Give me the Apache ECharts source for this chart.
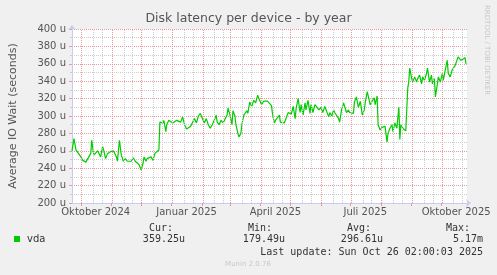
<!DOCTYPE html>
<html><head><meta charset="utf-8">
<script src="https://cdn.jsdelivr.net/npm/echarts@6/dist/echarts.min.js"></script>
<style>html,body{margin:0;padding:0;background:#f0f0f0}#c{width:497px;height:275px}</style>
</head><body><div id="c"></div>
<script>
// ---- data ----
const startDate = '2024-09-22';
const endDate = '2025-10-27';
const seriesName = 'vda';
// days since startDate
const days = [0,2,4,6,9,11,14,16,17,19,20,22,24,26,27,29,31,32,34,36,39,41,42,45,46,48,50,52,54,56,58,60,62,64,66,68,70,72,73,75,76,78,80,82,84,86,88,
89,90,92,93,95,96,98,100,102,104,106,108,110,112,114,116,118,120,122,124,126,128,130,132,134,136,138,140,142,144,146,147,149,151,153,155,157,158,160,162,163,165,166,168,169,171,172,174,176,177,178,
180,182,184,186,188,190,192,194,196,198,200,202,203,204,205,206,208,210,211,213,215,217,219,221,222,224,226,227,229,231,232,234,236,237,239,241,242,244,246,248,250,252,254,256,258,260,261,263,265,266,268,270,271,273,275,276,278,280,281,283,285,286,288,290,292,294,296,297,299,301,302,304,306,307,309,
310,312,314,316,317,319,320,322,324,325,327,329,330,331,332,333,335,337,338,
340,341,342,344,345,347,349,350,352,354,355,357,359,360,362,364,365,367,368,370,371,373,375,376,378,380,381,383,385,386,388,389,391,393,394,396,398,399];
// average IO wait, microseconds
const latency = [260,274,261,259,253,249,247,248,253,257,272,255,257,260,262,253,265,261,251,257,259,257,260,253,248,272,255,248,251,248,249,248,252,248,246,244,238,246,253,248,251,249,253,249,257,259,261,
293,295,292,295,282,290,295,297,292,293,295,297,293,299,290,285,286,288,290,297,292,300,303,297,292,297,290,286,290,295,301,293,290,295,292,290,301,309,301,290,306,300,290,280,276,280,290,301,303,306,303,
316,311,318,315,324,318,313,317,318,317,316,312,303,297,292,295,293,301,293,295,292,290,304,306,302,311,297,309,320,304,313,301,315,307,318,303,313,304,313,313,307,310,304,311,312,299,304,300,307,304,306,297,293,307,315,313,304,307,304,306,303,316,322,310,317,301,307,316,328,318,313,313,321,313,323,
290,284,287,285,288,270,280,286,290,282,292,286,288,310,273,290,286,284,283,
332,339,355,343,339,345,339,343,347,337,345,341,349,355,339,347,337,343,322,337,345,339,349,341,353,364,349,345,353,351,358,357,368,370,364,366,367,360];
const yMin = 200, yMax = 400, yStep = 20;
const monthStarts = ['2024-10-01','2024-11-01','2024-12-01','2025-01-01','2025-02-01','2025-03-01','2025-04-01','2025-05-01','2025-06-01','2025-07-01','2025-08-01','2025-09-01','2025-10-01'];
const minorGridDaysOfMonth = [13, 22];
const xLabelDates = ['2024-10-16','2025-01-16','2025-04-16','2025-07-16','2025-10-16'];
const xLabelTexts = ['Oktober 2024','Januar 2025','April 2025','Juli 2025','Oktober 2025'];
const statHeads = ['Cur:','Min:','Avg:','Max:'];
const statValues = ['359.25u','179.49u','296.61u','5.17m'];
const lastUpdate = 'Last update: Sun Oct 26 02:00:03 2025';

// ---- build ----
const DAY = 86400000;
const ts = s => Date.parse(s + 'T00:00:00Z');
const t0 = ts(startDate);
const dayOf = s => Math.round((ts(s) - t0) / DAY);
const spanDays = dayOf(endDate);
const points = days.map((d, i) => [d, latency[i]]);
const monthDays = monthStarts.map(dayOf);
const minorLines = [];
monthDays.forEach(m => minorGridDaysOfMonth.forEach(dm => {
  const d = m + dm - 1;
  if (d < spanDays) minorLines.push({xAxis: d + 0.5});
}));
const monthLines = monthDays.map(d => ({xAxis: d + 0.5}));
const labelDays = xLabelDates.map(dayOf);
const labelMap = {};
labelDays.forEach((d, i) => labelMap[d] = xLabelTexts[i]);

const RED = '#e89a9a', GRAY = '#cccccc', AXIS = '#c8ccf0';
const SANS = 'DejaVu Sans', MONO = 'DejaVu Sans Mono';
const headX = [173, 272, 371, 470], valX = [185, 285, 383, 483];
const graphics = [];
statHeads.forEach((h, i) => graphics.push({type:'text', x: headX[i], y: 228, style:{text:h, font:'10px "' + MONO + '"', fill:'#333', textAlign:'right', textVerticalAlign:'middle'}}));
statValues.forEach((v, i) => graphics.push({type:'text', x: valX[i], y: 239, style:{text:v, font:'10px "' + MONO + '"', fill:'#333', textAlign:'right', textVerticalAlign:'middle'}}));
graphics.push({type:'text', x: 483, y: 252, style:{text:lastUpdate, font:'10px "' + MONO + '"', fill:'#333', textAlign:'right', textVerticalAlign:'middle'}});
graphics.push({type:'text', x: 248, y: 264, style:{text:'Munin 2.0.76', font:'7px "' + SANS + '"', fill:'#c8c8c8', textAlign:'center', textVerticalAlign:'middle'}});
graphics.push({type:'text', x: 487, y: 5, rotation: -Math.PI/2, style:{text:'RRDTOOL / TOBI OETIKER', font:'7px "' + SANS + '"', fill:'#c8c8c8', textAlign:'left', textVerticalAlign:'middle'}});

const chart = echarts.init(document.getElementById('c'), null, {renderer:'canvas'});
chart.setOption({
  animation: false,
  backgroundColor: '#f0f0f0',
  title: {text:'Disk latency per device - by year', left:'center', top:12, padding:0,
    textStyle:{fontFamily:SANS, fontSize:12.5, fontWeight:'normal', color:'#555'}},
  legend: {data:[seriesName], left:14, top:234, padding:0, icon:'rect', itemWidth:6, itemHeight:6, itemGap:4,
    textStyle:{fontFamily:SANS, fontSize:10, color:'#333', padding:[0,0,0,2]}},
  grid: {left:67, right:30, top:29, bottom:72, show:true, backgroundColor:'#fff', borderWidth:0},
  xAxis: {type:'value', min:0, max:spanDays,
    axisLine:{show:true, lineStyle:{color:AXIS, width:1}, symbol:['none','arrow'], symbolSize:[6,5], symbolOffset:[0,4]},
    axisTick:{show:true, customValues: monthDays, length:3, lineStyle:{color:RED}},
    axisLabel:{customValues: labelDays, formatter: v => labelMap[v] || '', fontFamily:SANS, fontSize:10, color:'#555', margin:4},
    splitLine:{show:false}},
  yAxis: {type:'value', min:yMin, max:yMax, interval:yStep, name:'Average IO Wait (seconds)', nameLocation:'middle', nameGap:53,
    nameTextStyle:{fontFamily:SANS, fontSize:11, color:'#555'},
    axisLine:{show:true, lineStyle:{color:AXIS, width:1}, symbol:['none','arrow'], symbolSize:[6,5], symbolOffset:[0,4]},
    axisTick:{show:true, length:3, lineStyle:{color:RED}},
    minorTick:{show:true, splitNumber:2, length:2, lineStyle:{color:GRAY}},
    axisLabel:{formatter: v => v + ' u', fontFamily:SANS, fontSize:10, color:'#555', margin:6},
    splitLine:{show:true, lineStyle:{color:RED, type:[1,1], width:1}},
    minorSplitLine:{show:true, lineStyle:{color:GRAY, type:[1,1], width:1}}},
  graphic: graphics,
  series: [
    {type:'line', name:'minorgrid', data:[], silent:true, z:1,
      markLine:{silent:true, symbol:'none', label:{show:false}, lineStyle:{color:GRAY, type:[1,1], width:1}, data: minorLines}},
    {type:'line', name:'months', data:[], silent:true, z:1,
      markLine:{silent:true, symbol:'none', label:{show:false}, lineStyle:{color:RED, type:[1,1], width:1}, data: monthLines}},
    {type:'line', name:seriesName, data:points, showSymbol:false, symbol:'none', z:3,
      lineStyle:{color:'#00cc00', width:1.2}, itemStyle:{color:'#00cc00'}}
  ]
});
</script></body></html>
